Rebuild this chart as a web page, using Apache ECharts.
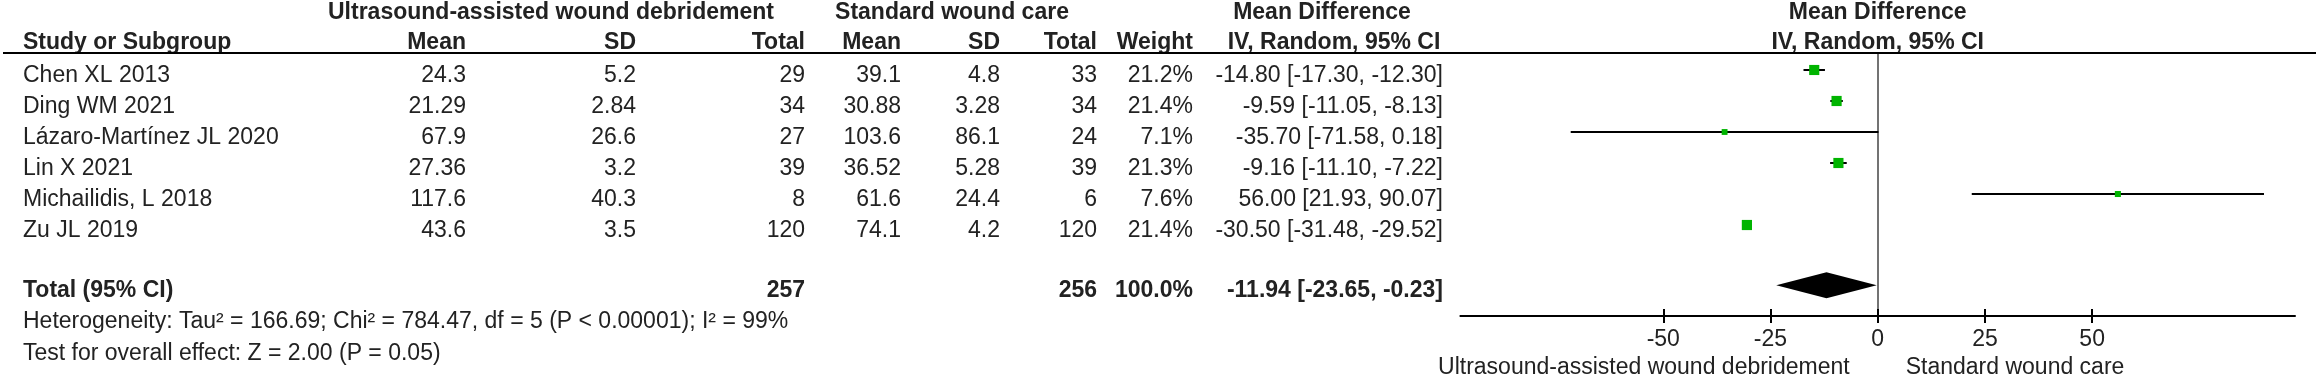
<!DOCTYPE html>
<html>
<head>
<meta charset="utf-8">
<title>Forest plot</title>
<script src="https://cdn.jsdelivr.net/npm/echarts@6/dist/echarts.min.js"></script>
<style>
html, body { margin: 0; padding: 0; background: #fff; }
#forest { width: 2320px; height: 380px; }
</style>
</head>
<body>
<div id="forest"></div>
<script>
// study rows
const studies = ['Chen XL 2013', 'Ding WM 2021', 'Lázaro-Martínez JL 2020', 'Lin X 2021', 'Michailidis, L 2018', 'Zu JL 2019']
const expMean = [24.3, 21.29, 67.9, 27.36, 117.6, 43.6]
const expSd = [5.2, 2.84, 26.6, 3.2, 40.3, 3.5]
const expTotal = [29, 34, 27, 39, 8, 120]
const ctrlMean = [39.1, 30.88, 103.6, 36.52, 61.6, 74.1]
const ctrlSd = [4.8, 3.28, 86.1, 5.28, 24.4, 4.2]
const ctrlTotal = [33, 34, 24, 39, 6, 120]
const weights = [21.2, 21.4, 7.1, 21.3, 7.6, 21.4]
const md = [-14.80, -9.59, -35.70, -9.16, 56.00, -30.50]
const ciLow = [-17.30, -11.05, -71.58, -11.10, 21.93, -31.48]
const ciHigh = [-12.30, -8.13, 0.18, -7.22, 90.07, -29.52]

// pooled result
const totalExp = 257
const totalCtrl = 256
const totalWeight = 100.0
const pooled = [-11.94, -23.65, -0.23]   // md, low, high
const heterogeneity = 'Heterogeneity: Tau² = 166.69; Chi² = 784.47, df = 5 (P < 0.00001); I² = 99%'
const overallEffect = 'Test for overall effect: Z = 2.00 (P = 0.05)'

// axis
const xTicks = [-50, -25, 0, 25, 50]
const xMin = -97.3
const xMax = 97.3
const favoursLeft = 'Ultrasound-assisted wound debridement'
const favoursRight = 'Standard wound care'

// layout (px)
const PLOT_LEFT = 1460.4
const PLOT_WIDTH = 834.6
const FONT = '23px "Liberation Sans", Arial, sans-serif'
const BOLD = 'bold ' + FONT
const TEXT_COLOR = '#222'
const TOTAL_ROW = 6.94
const ROW_H1 = -2.03
const ROW_H2 = -1.06

const fmt2 = v => v.toFixed(2)
const ciText = (m, l, h) => fmt2(m) + ' [' + fmt2(l) + ', ' + fmt2(h) + ']'

const rows = studies.map((s, i) => i)

// table cells: [x, row, text, align, bold]
const cells = []
const col = (x, align, texts, bold, rowIdx) => {
    texts.forEach((t, i) => cells.push([x, rowIdx[i], t, align, bold]))
}
const zeroX = PLOT_LEFT + (0 - xMin) / (xMax - xMin) * PLOT_WIDTH

// headers
col(551, 'center', ['Ultrasound-assisted wound debridement'], true, [ROW_H1])
col(952, 'center', ['Standard wound care'], true, [ROW_H1])
col(1322, 'center', ['Mean Difference'], true, [ROW_H1])
col(zeroX, 'center', ['Mean Difference'], true, [ROW_H1])
col(23, 'left', ['Study or Subgroup'], true, [ROW_H2])
col(466, 'right', ['Mean'], true, [ROW_H2])
col(636, 'right', ['SD'], true, [ROW_H2])
col(805, 'right', ['Total'], true, [ROW_H2])
col(901, 'right', ['Mean'], true, [ROW_H2])
col(1000, 'right', ['SD'], true, [ROW_H2])
col(1097, 'right', ['Total'], true, [ROW_H2])
col(1193, 'right', ['Weight'], true, [ROW_H2])
col(1334, 'center', ['IV, Random, 95% CI'], true, [ROW_H2])
col(zeroX, 'center', ['IV, Random, 95% CI'], true, [ROW_H2])

// body
col(23, 'left', studies, false, rows)
col(466, 'right', expMean.map(String), false, rows)
col(636, 'right', expSd.map(String), false, rows)
col(805, 'right', expTotal.map(String), false, rows)
col(901, 'right', ctrlMean.map(String), false, rows)
col(1000, 'right', ctrlSd.map(String), false, rows)
col(1097, 'right', ctrlTotal.map(String), false, rows)
col(1193, 'right', weights.map(w => w.toFixed(1) + '%'), false, rows)
col(1443, 'right', md.map((m, i) => ciText(m, ciLow[i], ciHigh[i])), false, rows)

// total + footnotes
col(23, 'left', ['Total (95% CI)'], true, [TOTAL_ROW])
col(805, 'right', [String(totalExp)], true, [TOTAL_ROW])
col(1097, 'right', [String(totalCtrl)], true, [TOTAL_ROW])
col(1193, 'right', [totalWeight.toFixed(1) + '%'], true, [TOTAL_ROW])
col(1443, 'right', [ciText(pooled[0], pooled[1], pooled[2])], true, [TOTAL_ROW])
col(23, 'left', [heterogeneity], false, [7.94])
col(23, 'left', [overallEffect], false, [8.97])

const chart = echarts.init(document.getElementById('forest'))
chart.setOption({
    animation: false,
    backgroundColor: '#fff',
    grid: [
        { left: 0, top: 14, width: 2320, height: 341 },          // table
        { left: PLOT_LEFT, top: 53, width: PLOT_WIDTH, height: 263 } // forest
    ],
    xAxis: [
        { gridIndex: 0, type: 'value', min: 0, max: 2320, show: false },
        {
            gridIndex: 1, type: 'value', min: xMin, max: xMax, position: 'bottom',
            splitLine: { show: false },
            axisLine: { show: true, onZero: false, lineStyle: { color: '#000', width: 2 } },
            axisTick: { show: true, customValues: xTicks, length: 7, lineStyle: { color: '#000', width: 2 } },
            axisLabel: { show: true, customValues: xTicks, margin: 12, fontSize: 23, color: TEXT_COLOR, fontFamily: '"Liberation Sans", Arial, sans-serif' }
        },
        {
            // inner half of the crossing ticks
            gridIndex: 1, type: 'value', min: xMin, max: xMax, position: 'bottom',
            splitLine: { show: false },
            axisLine: { show: false, onZero: false },
            axisTick: { show: true, inside: true, customValues: xTicks, length: 7, lineStyle: { color: '#000', width: 2 } },
            axisLabel: { show: false }
        }
    ],
    yAxis: [
        { gridIndex: 0, type: 'value', min: -2, max: 9, inverse: true, show: false },
        {
            gridIndex: 1, type: 'value', min: -0.548, max: 7.935, inverse: true,
            axisLine: { show: true, onZero: true, onZeroAxisIndex: 1, lineStyle: { color: '#444', width: 1.5 } },
            axisTick: { show: false }, axisLabel: { show: false }, splitLine: { show: false }
        }
    ],
    series: [
        {
            type: 'custom',
            name: 'table',
            xAxisIndex: 0, yAxisIndex: 0,
            silent: true,
            data: cells.map(c => [c[0], c[1]]),
            renderItem: (params, api) => {
                const c = cells[params.dataIndex]
                const p = api.coord([api.value(0), api.value(1)])
                return {
                    type: 'text', x: p[0], y: p[1],
                    style: { text: c[2], align: c[3], verticalAlign: 'middle', fill: TEXT_COLOR, font: c[4] ? BOLD : FONT }
                }
            }
        },
        {
            type: 'custom',
            name: 'studies',
            xAxisIndex: 1, yAxisIndex: 1,
            silent: true,
            data: md.map((m, i) => [m, i, ciLow[i], ciHigh[i], weights[i]]),
            renderItem: (params, api) => {
                const c = api.coord([api.value(0), api.value(1)])
                const lo = api.coord([api.value(2), api.value(1)])
                const hi = api.coord([api.value(3), api.value(1)])
                const s = 2.2 * Math.sqrt(api.value(4))
                return {
                    type: 'group',
                    children: [
                        { type: 'line', shape: { x1: lo[0], y1: lo[1], x2: hi[0], y2: hi[1] }, style: { stroke: '#000', lineWidth: 2 } },
                        { type: 'rect', shape: { x: c[0] - s / 2, y: c[1] - s / 2, width: s, height: s }, style: { fill: '#00b400' } }
                    ]
                }
            }
        },
        {
            type: 'custom',
            name: 'pooled',
            xAxisIndex: 1, yAxisIndex: 1,
            silent: true,
            data: [[pooled[0], TOTAL_ROW, pooled[1], pooled[2]]],
            renderItem: (params, api) => {
                const c = api.coord([api.value(0), api.value(1)])
                const lo = api.coord([api.value(2), api.value(1)])
                const hi = api.coord([api.value(3), api.value(1)])
                const h = 13
                return {
                    type: 'polygon',
                    shape: { points: [[lo[0], lo[1]], [c[0], c[1] - h], [hi[0], hi[1]], [c[0], c[1] + h]] },
                    style: { fill: '#000' }
                }
            }
        }
    ]
})

// header rule and favours labels either side of zero
const zx = chart.convertToPixel({ xAxisIndex: 1 }, 0)
chart.setOption({
    graphic: [
        { type: 'line', shape: { x1: 3, y1: 53, x2: 2316, y2: 53 }, style: { stroke: '#000', lineWidth: 2 }, z: 10 },
        { type: 'text', x: zx - 28, y: 368, style: { text: favoursLeft, align: 'right', verticalAlign: 'middle', fill: TEXT_COLOR, font: FONT } },
        { type: 'text', x: zx + 28, y: 368, style: { text: favoursRight, align: 'left', verticalAlign: 'middle', fill: TEXT_COLOR, font: FONT } }
    ]
})
</script>
</body>
</html>
